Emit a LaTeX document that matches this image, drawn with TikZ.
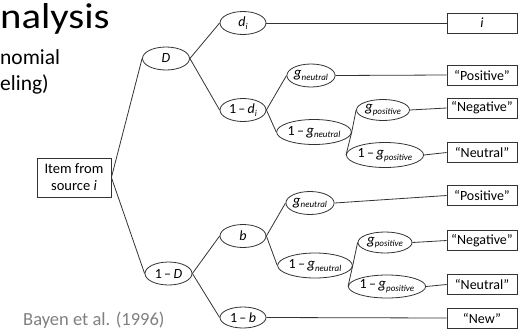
\documentclass[tikz,border=0pt]{standalone}
\usepackage{fontspec}
\setmainfont{Carlito}
\usetikzlibrary{shapes.geometric}
\newcommand{\sbx}[1]{\raisebox{-0.4ex}{\fontsize{9}{9}\selectfont\itshape #1}}
\newcommand{\vg}[1]{{\fontsize{15}{15}\selectfont\textit{g}}\sbx{#1}}
\begin{document}
\begin{tikzpicture}[x=1pt,y=-1pt,
  conn/.style={draw=black!80,line width=0.8pt},
  prob/.style={draw=black!80,line width=0.8pt,ellipse,inner sep=0pt,minimum width=46pt,minimum height=23pt,font=\fontsize{14}{14}\selectfont},
  outbox/.style={draw=black!80,line width=0.8pt,rectangle,inner sep=0pt,minimum width=70pt,minimum height=20pt,font=\fontsize{14}{14}\selectfont},
  ]
\useasboundingbox (0,0) rectangle (522,330);
% title fragments
\node[anchor=base west,inner sep=0pt,font=\fontsize{36}{36}\selectfont] (title) at (0,28) {\scalebox{1.13}[1]{nalysis}};
\node[anchor=base west,inner sep=0pt,font=\fontsize{21.5}{21.5}\selectfont] (sub1) at (0,64) {nomial};
\node[anchor=base west,inner sep=0pt,font=\fontsize{21.5}{21.5}\selectfont] (sub2) at (0,90) {eling)};
\node[anchor=base west,inner sep=0pt,text=black!50,font=\fontsize{18.5}{18.5}\selectfont] (cite) at (23,325) {Bayen et al. (1996)};
% root
\node[draw=black!80,line width=0.8pt,minimum width=74pt,minimum height=39pt,inner sep=0pt,align=center,font=\fontsize{14.5}{17}\selectfont] (item) at (74,177.5) {Item from\\source \textit{i}};
% level 1
\node[prob,minimum width=47pt] (D) at (166,58.5) {\textit{D}};
\node[prob,minimum width=47pt] (nD) at (168.5,273.5) {1\,–\,\textit{D}};
% D branch
\node[prob] (di) at (243,23) {\textit{d}\sbx{i}};
\node[prob] (ndi) at (243,110) {1\,–\,\textit{d}\sbx{i}};
\node[prob] (gn1) at (311,75.5) {\vg{neutral}};
\node[prob,minimum width=62pt,minimum height=25pt] (ngn1) at (314,132) {1\,–\,\vg{neutral}};
\node[prob,minimum width=53pt,minimum height=21pt] (gp1) at (383,110) {\vg{positive}};
\node[prob,minimum width=65pt,minimum height=25pt] (ngp1) at (385,155) {1\,–\,\vg{positive}};
% 1-D branch
\node[prob] (b) at (243,236) {\textit{b}};
\node[prob,minimum height=21pt] (nb) at (243,317.5) {1\,–\,\textit{b}};
\node[prob] (gn2) at (310,203) {\vg{neutral}};
\node[prob,minimum width=62pt,minimum height=25pt] (ngn2) at (315,265.5) {1\,–\,\vg{neutral}};
\node[prob,minimum width=54pt,minimum height=21pt] (gp2) at (385,242.5) {\vg{positive}};
\node[prob,minimum width=66pt,minimum height=23pt] (ngp2) at (387,286.5) {1\,–\,\vg{positive}};
% outcomes
\node[outbox] (oi) at (482,23) {\textit{i}};
\node[outbox] (op1) at (482,75) {“Positive”};
\node[outbox] (oneg1) at (482,108) {“Negative”};
\node[outbox] (oneu1) at (482,152.5) {“Neutral”};
\node[outbox] (op2) at (482,195.5) {“Positive”};
\node[outbox] (oneg2) at (482,240.5) {“Negative”};
\node[outbox] (oneu2) at (482,284.5) {“Neutral”};
\node[outbox] (onew) at (482,318) {“New”};
% connectors
\draw[conn] (item.east) -- (D.west);
\draw[conn] (item.east) -- (nD.west);
\draw[conn] (D.east) -- (di.west);
\draw[conn] (D.east) -- (ndi.west);
\draw[conn] (ndi.east) -- (gn1.west);
\draw[conn] (ndi.east) -- (ngn1.west);
\draw[conn] (ngn1.east) -- (gp1.west);
\draw[conn] (ngn1.east) -- (ngp1.west);
\draw[conn] (nD.east) -- (b.west);
\draw[conn] (nD.east) -- (nb.west);
\draw[conn] (b.east) -- (gn2.west);
\draw[conn] (b.east) -- (ngn2.west);
\draw[conn] (ngn2.east) -- (gp2.west);
\draw[conn] (ngn2.east) -- (ngp2.west);
\draw[conn] (di.east) -- (oi.west);
\draw[conn] (gn1.east) -- (op1.west);
\draw[conn] (gp1.east) -- (oneg1.west);
\draw[conn] (ngp1.east) -- (oneu1.west);
\draw[conn] (gn2.east) -- (op2.west);
\draw[conn] (gp2.east) -- (oneg2.west);
\draw[conn] (ngp2.east) -- (oneu2.west);
\draw[conn] (nb.east) -- (onew.west);
\end{tikzpicture}
\end{document}
